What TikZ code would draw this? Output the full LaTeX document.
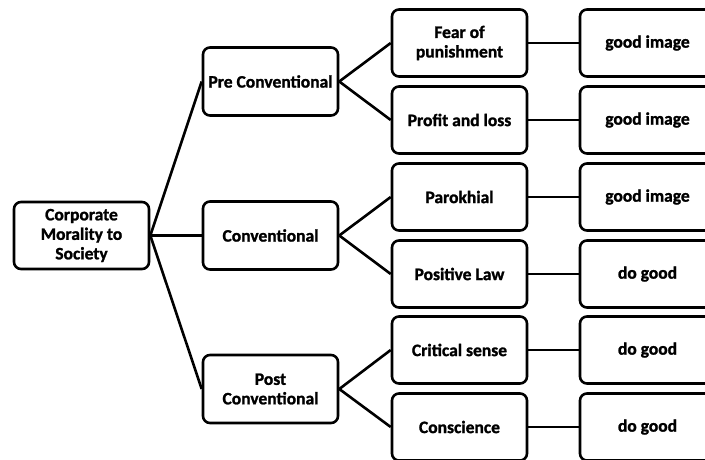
\documentclass[tikz,border=0pt]{standalone}
\usepackage{fontspec}
\setmainfont{Carlito}[BoldFeatures={FakeBold=1.3}]
\begin{document}
\begin{tikzpicture}[x=1pt,y=-1pt,
  box/.style={draw=black, line width=2.6pt, rounded corners=7pt, fill=white,
    minimum width=135pt, minimum height=67pt, align=center, inner sep=0pt,
    font=\fontsize{17.5}{19.5}\selectfont\bfseries},
  conn/.style={line width=2.6pt}]
\clip (0,0) rectangle (705,459);
\fill[white] (0,0) rectangle (705,459);
\node[box] (root) at (81.5,235.5) {Corporate\\Morality to\\Society};
\node[box, minimum height=68pt] (pre) at (270.5,81.5) {Pre Conventional};
\node[box, minimum height=68pt] (conv) at (270.5,235.5) {Conventional};
\node[box, minimum height=68pt] (post) at (270.5,389) {Post\\Conventional};
\node[box] (fear) at (459.5,43) {Fear of\\punishment};
\node[box] (profit) at (459.5,120) {Profit and loss};
\node[box] (parok) at (459.5,197) {Parokhial};
\node[box] (poslaw) at (459.5,274) {Positive Law};
\node[box] (crit) at (459.5,350) {Critical sense};
\node[box] (consc) at (459.5,427) {Conscience};
\node[box] (r1) at (647.5,43) {good image};
\node[box] (r2) at (647.5,120) {good image};
\node[box] (r3) at (647.5,197) {good image};
\node[box] (r4) at (647.5,274) {do good};
\node[box] (r5) at (647.5,350) {do good};
\node[box] (r6) at (647.5,427) {do good};
\foreach \t in {pre,conv,post} \draw[conn] (root.east) -- (\t.west);
\draw[conn] (pre.east) -- (fear.west);
\draw[conn] (pre.east) -- (profit.west);
\draw[conn] (conv.east) -- (parok.west);
\draw[conn] (conv.east) -- (poslaw.west);
\draw[conn] (post.east) -- (crit.west);
\draw[conn] (post.east) -- (consc.west);
\draw[conn] (fear.east) -- (r1.west);
\draw[conn] (profit.east) -- (r2.west);
\draw[conn] (parok.east) -- (r3.west);
\draw[conn] (poslaw.east) -- (r4.west);
\draw[conn] (crit.east) -- (r5.west);
\draw[conn] (consc.east) -- (r6.west);
\end{tikzpicture}
\end{document}
